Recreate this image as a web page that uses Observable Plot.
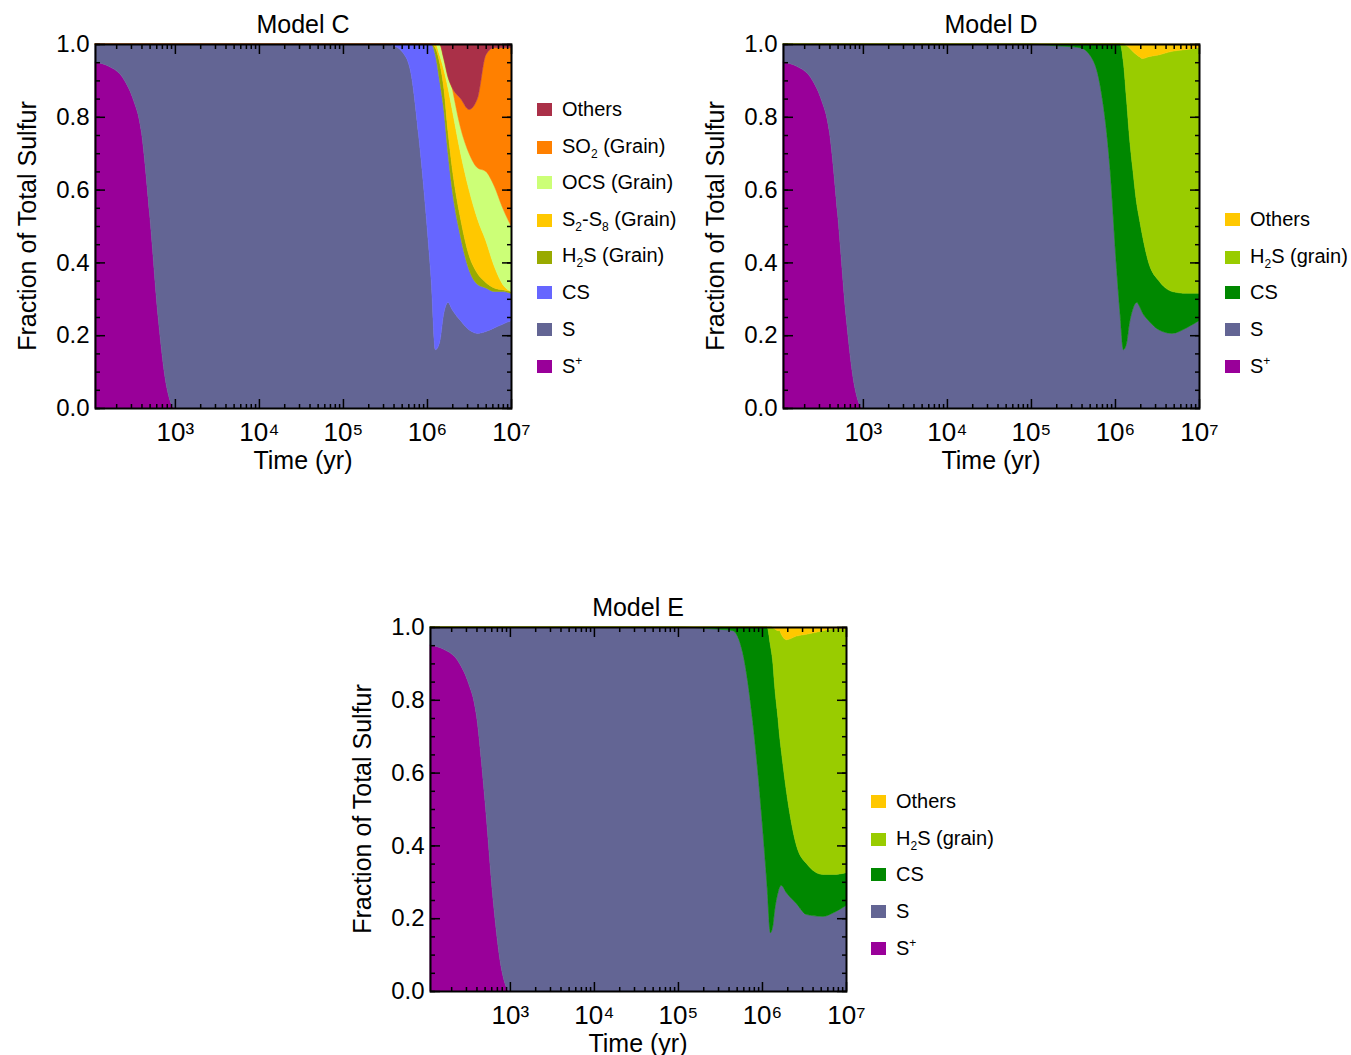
<!DOCTYPE html>
<html><head><meta charset="utf-8">
<script src="https://cdn.jsdelivr.net/npm/d3@7"></script>
<script src="https://cdn.jsdelivr.net/npm/@observablehq/plot@0.6"></script>
<style>
body{margin:0;background:#fff;font-family:"Liberation Sans",Arial,sans-serif;}
#wrap{position:relative;width:1351px;height:1055px;}
.abs{position:absolute;}
.title{font-size:25px;transform:translate(-50%,-50%);white-space:nowrap;}
.ylab{font-size:25px;transform:translate(-50%,-50%) rotate(-90deg);white-space:nowrap;}
.leg{font-size:20px;white-space:nowrap;display:flex;align-items:center;}
.sw{width:15px;height:13px;margin-right:10px;display:inline-block;}
sub,sup{font-size:12px;}
</style></head><body><div id="wrap"></div>
<script>
// ---- data: log10(time/yr) grid and cumulative stack tops (fraction of total sulfur)
const tC = [2.05,2.2,2.4,2.5,2.6,2.7,2.8,2.9,3.0,4,5,5.5,5.6,5.7,5.8,5.9,6.0,6.05,6.1,6.15,6.2,6.25,6.3,6.4,6.5,6.6,6.7,6.8,6.9,7.0];
const cSplus = [0.95,0.94,0.90,0.85,0.76,0.53,0.25,0.06,0,0,0,0,0,0,0,0,0,0,0,0,0,0,0,0,0,0,0,0,0,0];
const cS     = [1,1,1,1,1,1,1,1,1,1,1,1,0.995,0.98,0.93,0.75,0.5,0.35,0.16,0.18,0.26,0.29,0.27,0.24,0.215,0.205,0.21,0.22,0.23,0.24];
const cCS    = [1,1,1,1,1,1,1,1,1,1,1,1,1,1,1,1,1,1,0.97,0.9,0.82,0.7,0.6,0.47,0.38,0.34,0.33,0.32,0.32,0.315];
const cH2S   = [1,1,1,1,1,1,1,1,1,1,1,1,1,1,1,1,1,1,0.99,0.95,0.88,0.76,0.66,0.52,0.42,0.37,0.345,0.33,0.325,0.32];
const cS2S8  = [1,1,1,1,1,1,1,1,1,1,1,1,1,1,1,1,1,1,1,0.97,0.93,0.88,0.82,0.70,0.60,0.52,0.46,0.39,0.34,0.32];
const cOCS   = [1,1,1,1,1,1,1,1,1,1,1,1,1,1,1,1,1,1,1,1,0.98,0.94,0.88,0.77,0.70,0.66,0.65,0.61,0.55,0.50];
const cSO2   = [1,1,1,1,1,1,1,1,1,1,1,1,1,1,1,1,1,1,1,1,0.96,0.91,0.88,0.85,0.82,0.85,0.97,0.99,0.99,0.99];
const cOthers= tC.map(()=>1);

const tD = [2.05,2.2,2.4,2.5,2.6,2.7,2.8,2.9,3.0,4,5,5.3,5.58,5.7,5.82,5.94,6.02,6.06,6.1,6.14,6.17,6.21,6.26,6.29,6.33,6.4,6.52,6.68,6.85,7.0];
const dSplus = [0.95,0.94,0.90,0.85,0.76,0.53,0.25,0.06,0,0,0,0,0,0,0,0,0,0,0,0,0,0,0,0,0,0,0,0,0,0];
const dS     = [1,1,1,1,1,1,1,1,1,1,1,0.995,0.99,0.97,0.89,0.66,0.38,0.26,0.16,0.18,0.23,0.27,0.29,0.28,0.26,0.24,0.215,0.205,0.22,0.24];
const dCS    = [1,1,1,1,1,1,1,1,1,1,1,1,1,1,1,1,1,1,0.95,0.84,0.75,0.66,0.56,0.52,0.47,0.40,0.35,0.32,0.315,0.315];
const dH2S   = [1,1,1,1,1,1,1,1,1,1,1,1,1,1,1,1,1,1,1,0.995,0.99,0.98,0.97,0.965,0.96,0.965,0.97,0.98,0.985,0.99];
const dOthers= tD.map(()=>1);

const tE = [2.05,2.2,2.4,2.5,2.6,2.7,2.8,2.9,3.0,4,5,5.4,5.65,5.77,5.89,6.0,6.06,6.1,6.13,6.15,6.19,6.21,6.23,6.29,6.41,6.53,6.73,6.85,7.0];
const eSplus = [0.95,0.94,0.90,0.85,0.76,0.53,0.25,0.06,0,0,0,0,0,0,0,0,0,0,0,0,0,0,0,0,0,0,0,0,0];
const eS     = [1,1,1,1,1,1,1,1,1,1,1,0.995,0.99,0.93,0.74,0.47,0.29,0.16,0.18,0.22,0.27,0.285,0.29,0.27,0.24,0.21,0.205,0.215,0.235];
const eCS    = [1,1,1,1,1,1,1,1,1,1,1,1,1,1,1,1,1,0.95,0.9,0.84,0.75,0.70,0.66,0.55,0.40,0.35,0.32,0.32,0.325];
const eH2S   = [1,1,1,1,1,1,1,1,1,1,1,1,1,1,1,1,1,1,0.998,0.995,0.99,0.99,0.98,0.965,0.975,0.98,0.99,0.995,0.995];
const eOthers= tE.map(()=>1);

const xTickLabels = ["10³","10⁴","10⁵","10⁶","10⁷"];
const xTickValues = [1e3,1e4,1e5,1e6,1e7];
const yTickLabels = ["0.0","0.2","0.4","0.6","0.8","1.0"];

const panels = [
 {title:"Model C", left:0, top:0, t:tC,
  series:[["S+",cSplus,"#990099"],["S",cS,"#636594"],["CS",cCS,"#6666ff"],["H2S",cH2S,"#99aa00"],["S2S8",cS2S8,"#ffc800"],["OCS",cOCS,"#ccff77"],["SO2",cSO2,"#ff8000"],["Others",cOthers,"#aa3048"]],
  legend:{x:537,y:110,items:[["Others","#aa3048"],["SO<sub>2</sub> (Grain)","#ff8000"],["OCS (Grain)","#ccff77"],["S<sub>2</sub>-S<sub>8</sub> (Grain)","#ffc800"],["H<sub>2</sub>S (Grain)","#99aa00"],["CS","#6666ff"],["S","#636594"],["S<sup>+</sup>","#990099"]]}},
 {title:"Model D", left:688, top:0, t:tD,
  series:[["S+",dSplus,"#990099"],["S",dS,"#636594"],["CS",dCS,"#008800"],["H2S",dH2S,"#99cc00"],["Others",dOthers,"#ffc800"]],
  legend:{x:1225,y:220,items:[["Others","#ffc800"],["H<sub>2</sub>S (grain)","#99cc00"],["CS","#008800"],["S","#636594"],["S<sup>+</sup>","#990099"]]}},
 {title:"Model E", left:335, top:583, t:tE,
  series:[["S+",eSplus,"#990099"],["S",eS,"#636594"],["CS",eCS,"#008800"],["H2S",eH2S,"#99cc00"],["Others",eOthers,"#ffc800"]],
  legend:{x:871,y:802,items:[["Others","#ffc800"],["H<sub>2</sub>S (grain)","#99cc00"],["CS","#008800"],["S","#636594"],["S<sup>+</sup>","#990099"]]}}
];

const wrap = document.getElementById("wrap");
const minorX = [];
for (let k=2;k<7;k++) for (let m=2;m<=9;m++) if (m*10**k>=112) minorX.push(m*10**k);
const minorY = d3.range(0,1.0001,0.05);
const majorY = d3.range(0,1.0001,0.2);

for (const p of panels) {
  const rows = [];
  p.series.forEach(([name, tops], i) => {
    const below = i===0 ? null : p.series[i-1][1];
    p.t.forEach((lt, j) => rows.push({name, x: 10**lt, y1: below ? below[j] : 0, y2: tops[j]}));
  });
  const xLab = d => xTickLabels[xTickValues.findIndex(v => Math.abs(Math.log10(v) - Math.log10(d)) < 0.01)];
  const yLab = d => yTickLabels[Math.round(d*5)];
  const tk = {label:null, strokeWidth:1.5, tickFormat:()=>""};
  const chart = Plot.plot({
    width:530, height:480, marginLeft:95, marginRight:19, marginTop:44, marginBottom:72,
    style:{fontSize:26, fontFamily:"Liberation Sans, Arial, sans-serif", overflow:"visible", color:"#000"},
    x:{type:"log", domain:[112,1e7], axis:null},
    y:{domain:[0,1], axis:null},
    color:{domain:p.series.map(s=>s[0]), range:p.series.map(s=>s[2])},
    marks:[
      Plot.areaY(rows,{x:"x",y1:"y1",y2:"y2",fill:"name",z:"name",stroke:"name",strokeWidth:0.5,curve:"monotone-x"}),
      Plot.axisX({...tk,anchor:"bottom",ticks:minorX,tickSize:-4}),
      Plot.axisX({...tk,anchor:"top",ticks:minorX,tickSize:-4}),
      Plot.axisX({...tk,anchor:"bottom",ticks:xTickValues,tickSize:-9}),
      Plot.axisX({...tk,anchor:"top",ticks:xTickValues,tickSize:-9}),
      Plot.axisX({anchor:"bottom",label:null,ticks:xTickValues,tickSize:0,tickPadding:14,tickFormat:xLab,fontSize:26}),
      Plot.axisY({...tk,anchor:"left",ticks:minorY,tickSize:-5}),
      Plot.axisY({...tk,anchor:"right",ticks:minorY,tickSize:-5}),
      Plot.axisY({...tk,anchor:"left",ticks:majorY,tickSize:-10}),
      Plot.axisY({...tk,anchor:"right",ticks:majorY,tickSize:-10}),
      Plot.axisY({anchor:"left",label:null,ticks:majorY,tickSize:0,tickPadding:6,tickFormat:yLab,fontSize:24}),
      Plot.frame({stroke:"#000",strokeWidth:2})
    ]
  });
  chart.style.position="absolute"; chart.style.left=p.left+"px"; chart.style.top=p.top+"px";
  wrap.appendChild(chart);
  const cx = p.left+95+208;
  const mk = (cls, x, y, html) => { const d=document.createElement("div"); d.className="abs "+cls; d.style.left=x+"px"; d.style.top=y+"px"; d.innerHTML=html; wrap.appendChild(d); };
  mk("title", cx, p.top+24, p.title);
  mk("title", cx, p.top+460, "Time (yr)");
  mk("ylab", p.left+27, p.top+226, "Fraction of Total Sulfur");
  p.legend.items.forEach(([lab,col],i)=>{
    mk("leg", p.legend.x, p.legend.y + i*36.6 - 12, `<span class="sw" style="background:${col}"></span><span>${lab}</span>`);
  });
}
</script></body></html>
